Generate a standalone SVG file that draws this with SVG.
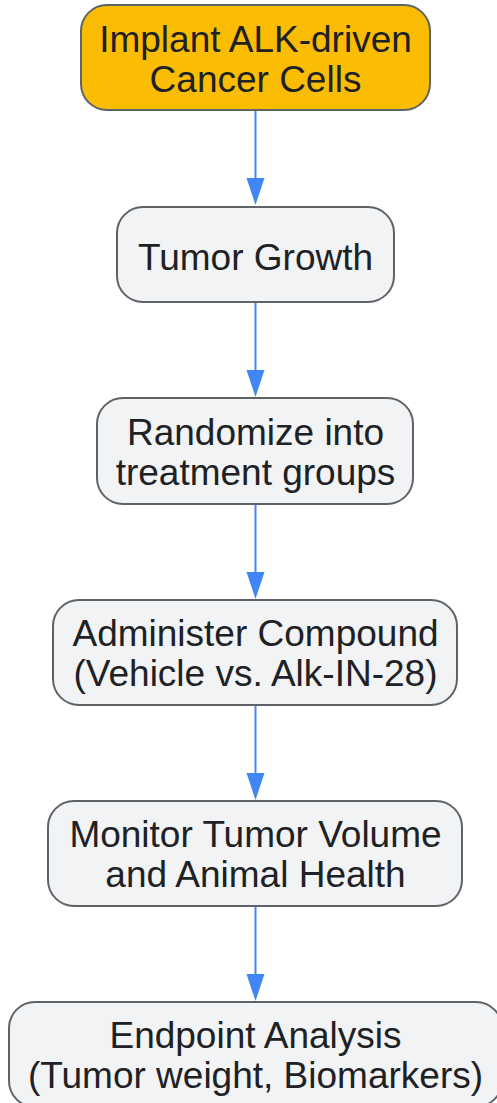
<svg xmlns="http://www.w3.org/2000/svg" width="497" height="1103" viewBox="0 0 497 1103">
<style>
.n{fill:#f1f3f4;stroke:#5f6368;stroke-width:2}
.t{font-family:"Liberation Sans",Arial,sans-serif;font-size:37px;fill:#202124;text-anchor:middle}
.e{stroke:#4285f4;stroke-width:2;fill:none}
.h{fill:#4285f4}
</style>
<g id="edges">
<path class="e" d="M255.5,111V178"/><path class="h" d="M246.5,178h18l-9,27z"/>
<path class="e" d="M255.5,303V370"/><path class="h" d="M246.5,370h18l-9,27z"/>
<path class="e" d="M255.5,505V572"/><path class="h" d="M246.5,572h18l-9,27z"/>
<path class="e" d="M255.5,706V773"/><path class="h" d="M246.5,773h18l-9,27z"/>
<path class="e" d="M255.5,907V974"/><path class="h" d="M246.5,974h18l-9,27z"/>
</g>
<g id="n1"><rect x="81" y="5" width="349" height="105" rx="26" fill="#fbbc04" stroke="#5f6368" stroke-width="2"/>
<text class="t" x="255.5" y="52">Implant ALK-driven</text><text class="t" x="255.5" y="92">Cancer Cells</text></g>
<g id="n2"><rect class="n" x="117" y="207" width="277" height="95" rx="26"/>
<text class="t" x="255.5" y="270">Tumor Growth</text></g>
<g id="n3"><rect class="n" x="97" y="398" width="316" height="106" rx="26"/>
<text class="t" x="255.5" y="445">Randomize into</text><text class="t" x="255.5" y="485">treatment groups</text></g>
<g id="n4"><rect class="n" x="53" y="600" width="404" height="105" rx="26"/>
<text class="t" x="255.5" y="646">Administer Compound</text><text class="t" x="255.5" y="686">(Vehicle vs. Alk-IN-28)</text></g>
<g id="n5"><rect class="n" x="48" y="801" width="414" height="105" rx="26"/>
<text class="t" x="255.5" y="847">Monitor Tumor Volume</text><text class="t" x="255.5" y="887">and Animal Health</text></g>
<g id="n6"><rect class="n" x="9" y="1002" width="493" height="105" rx="26"/>
<text class="t" x="255.5" y="1048">Endpoint Analysis</text><text class="t" x="255.5" y="1088">(Tumor weight, Biomarkers)</text></g>
</svg>
